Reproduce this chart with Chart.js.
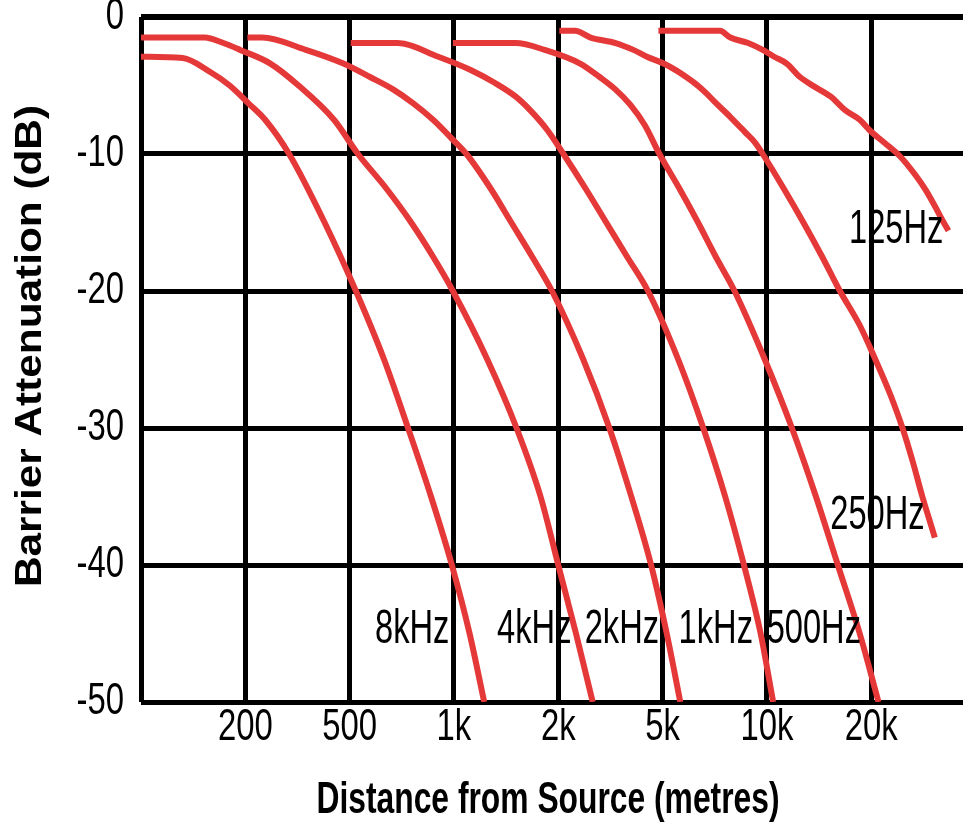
<!DOCTYPE html>
<html>
<head>
<meta charset="utf-8">
<title>Barrier Attenuation vs Distance from Source</title>
<script src="https://cdn.jsdelivr.net/npm/chart.js@4.4.1/dist/chart.umd.min.js"></script>
<style>
  html, body { margin: 0; padding: 0; background: #fff; }
  canvas { display: block; }
</style>
</head>
<body>
<canvas id="chart" width="963" height="826"></canvas>
<script>
// --- DATA ---
// distance axis: one equal step per labelled distance (position 0 = left edge)
const tickLabels = ['', '200', '500', '1k', '2k', '5k', '10k', '20k'];
const yTicks = [0, -10, -20, -30, -40, -50];
const curveNames = ['8kHz', '4kHz', '2kHz', '1kHz', '500Hz', '250Hz', '125Hz'];

// position along distance axis / attenuation in dB
const pos8k = [0, 0.4, 0.66, 0.85, 1.03, 1.19, 1.42, 1.76, 2.06, 2.33, 2.56, 2.78, 2.98, 3.15, 3.29];
const db8k  = [-2.9, -3.0, -4.0, -5.0, -6.3, -7.5, -10, -15, -20, -25, -30, -35, -40, -45, -50];

const pos4k = [0, 0.61, 0.79, 0.95, 1.24, 1.51, 1.85, 2.08, 2.35, 2.59, 2.8, 2.99, 3.32, 3.6, 3.83, 4.0, 4.17, 4.33];
const db4k  = [-1.5, -1.5, -1.9, -2.4, -3.4, -5.0, -7.5, -10, -12.5, -15, -17.5, -20, -25, -30, -35, -40, -45, -50];

const pos2k = [1.02, 1.16, 1.58, 1.94, 2.2, 2.42, 2.61, 2.8, 2.97, 3.12, 3.35, 3.55, 3.75, 3.94, 4.24, 4.49, 4.7, 4.89, 5.04, 5.17];
const db2k  = [-1.5, -1.5, -2.4, -3.4, -4.4, -5.3, -6.3, -7.5, -8.8, -10, -12.5, -15, -17.5, -20, -25, -30, -35, -40, -45, -50];

const pos1k = [2.01, 2.46, 2.85, 3.17, 3.39, 3.59, 3.73, 3.9, 4.05, 4.26, 4.46, 4.66, 4.86, 5.15, 5.39, 5.6, 5.78, 5.94, 6.06];
const db1k  = [-1.9, -1.9, -2.9, -3.9, -4.8, -5.8, -6.8, -8.3, -10, -12.5, -15, -17.5, -20, -25, -30, -35, -40, -45, -50];

const pos500 = [2.99, 3.59, 3.87, 4.21, 4.4, 4.55, 4.69, 4.83, 4.97, 5.16, 5.34, 5.51, 5.69, 5.98, 6.24, 6.47, 6.68, 6.89, 7.07];
const db500  = [-1.9, -1.9, -2.4, -3.4, -4.4, -5.3, -6.4, -7.9, -10, -12.5, -15, -17.5, -20, -25, -30, -35, -40, -45, -50];

const pos250 = [4.01, 4.16, 4.31, 4.55, 4.72, 4.85, 5.01, 5.13, 5.23, 5.32, 5.41, 5.5, 5.65, 5.79, 5.89, 5.96, 6.16, 6.35, 6.53, 6.7, 6.89, 7.04, 7.18, 7.3, 7.4, 7.49, 7.57, 7.61];
const db250  = [-1.0, -1.0, -1.5, -1.9, -2.4, -2.9, -3.4, -3.9, -4.4, -4.9, -5.5, -6.2, -7.3, -8.4, -9.2, -10, -12.5, -15, -17.5, -20, -22.5, -25, -27.5, -30, -32.5, -35, -37, -38];

const pos125 = [4.96, 5.55, 5.65, 5.82, 5.96, 6.07, 6.19, 6.32, 6.46, 6.61, 6.75, 6.89, 6.99, 7.13, 7.28, 7.42, 7.52, 7.61, 7.68, 7.74];
const db125  = [-1.0, -1.0, -1.5, -1.9, -2.4, -2.9, -3.4, -4.4, -5.1, -5.8, -6.8, -7.5, -8.3, -9.2, -10.2, -11.5, -12.6, -13.8, -14.8, -15.6];

// where each curve name is written (position, dB)
const labelPos = [2.6, 3.77, 4.61, 5.51, 6.45, 7.06, 7.24];
const labelDb  = [-44.7, -44.7, -44.7, -44.7, -44.7, -36.4, -15.5];

const curvePos = [pos8k, pos4k, pos2k, pos1k, pos500, pos250, pos125];
const curveDb  = [db8k, db4k, db2k, db1k, db500, db250, db125];

// --- STYLE ---
const RED = 'rgb(229,57,57)';
const FONT = '"Liberation Sans", Arial, sans-serif';

function drawText(ctx, text, x, y, font, sx, align, rot) {
    ctx.save();
    ctx.translate(x, y);
    if (rot) ctx.rotate(rot);
    ctx.font = font;
    ctx.scale(sx, 1);
    ctx.fillStyle = '#000';
    ctx.textAlign = align;
    ctx.textBaseline = 'middle';
    ctx.fillText(text, 0, 0);
    ctx.restore();
}

// fit a title to a given length along its direction
function drawTitle(ctx, text, x, y, font, length, rot) {
    ctx.save();
    ctx.font = font;
    const w = ctx.measureText(text).width;
    ctx.restore();
    drawText(ctx, text, x, y, font, length / w, 'center', rot);
}

// condensed tall lettering like the original
const textPlugin = {
    id: 'textPlugin',
    afterDatasetsDraw(chart) {
        const { ctx, chartArea } = chart;
        const xs = chart.scales.x, ys = chart.scales.y;

        // y tick labels
        yTicks.forEach(v => {
            drawText(ctx, String(v), chartArea.left - 17, ys.getPixelForValue(v), '45px ' + FONT, 0.73, 'right');
        });
        // x tick labels
        tickLabels.forEach((t, i) => {
            if (!t) return;
            drawText(ctx, t, xs.getPixelForValue(i), chartArea.bottom + 26, '45px ' + FONT, 0.73, 'center');
        });
        // curve names
        curveNames.forEach((name, i) => {
            drawText(ctx, name, xs.getPixelForValue(labelPos[i]), ys.getPixelForValue(labelDb[i]), '48px ' + FONT, 0.68, 'center');
        });
        // axis titles
        drawTitle(ctx, 'Barrier Attenuation (dB)', 31, 346, 'bold 36px ' + FONT, 482, -Math.PI / 2);
        drawTitle(ctx, 'Distance from Source (metres)', 548, 801, 'bold 44px ' + FONT, 463, 0);
    }
};

const datasets = curveNames.map((name, i) => ({
    label: name,
    data: curvePos[i].map((p, j) => ({ x: p, y: curveDb[i][j] })),
    borderColor: RED,
    borderWidth: 6,
    pointRadius: 0,
    fill: false,
    cubicInterpolationMode: 'monotone',
    borderJoinStyle: 'round'
}));

const ctx = document.getElementById('chart').getContext('2d');
new Chart(ctx, {
    type: 'line',
    data: { datasets },
    options: {
        responsive: false,
        animation: false,
        devicePixelRatio: 1,
        layout: { padding: { left: 141, top: 17, right: 0, bottom: 124 } },
        plugins: {
            legend: { display: false },
            tooltip: { enabled: false }
        },
        scales: {
            x: {
                type: 'linear',
                min: 0,
                max: 7.88,
                afterBuildTicks: s => { s.ticks = tickLabels.map((t, i) => ({ value: i })); },
                ticks: { display: false },
                grid: { color: '#000', lineWidth: 5, drawTicks: false },
                border: { display: false }
            },
            y: {
                type: 'linear',
                min: -50,
                max: 0,
                afterBuildTicks: s => { s.ticks = yTicks.map(v => ({ value: v })); },
                ticks: { display: false },
                grid: {
                    color: '#000',
                    lineWidth: c => (c.tick && c.tick.value === 0 ? 6 : 5),
                    drawTicks: false
                },
                border: { display: false }
            }
        }
    },
    plugins: [textPlugin]
});
</script>
</body>
</html>
